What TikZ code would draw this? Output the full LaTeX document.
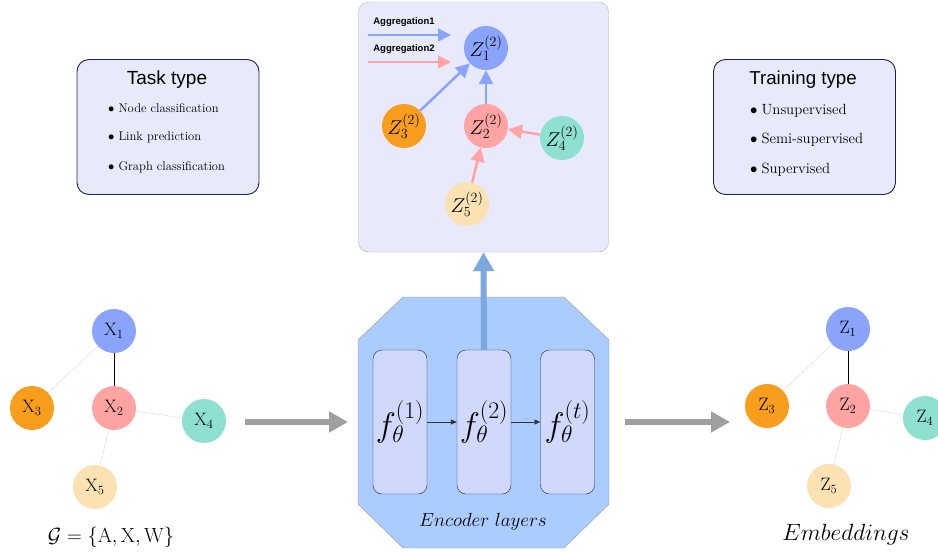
\RequirePackage{fix-cm}
\documentclass[tikz,border=0pt]{standalone}
\usepackage{fontspec}
\setsansfont{Liberation Sans}
\usetikzlibrary{arrows.meta,positioning}

\definecolor{nodoblu}{HTML}{8AA4FC}
\definecolor{nodoarancio}{HTML}{F89E1C}
\definecolor{nodorosa}{HTML}{FFA3A3}
\definecolor{nodoverde}{HTML}{8EE0D0}
\definecolor{nodocrema}{HTML}{FCE2B2}
\definecolor{sfondobox}{HTML}{E8EAFC}
\definecolor{bordobox}{HTML}{1C2250}
\definecolor{encoder}{HTML}{AACCFF}
\definecolor{strato}{HTML}{D0D8FC}
\definecolor{frecciablu}{HTML}{7BA8E0}

\tikzset{
  nodo/.style={circle, minimum size=44pt, inner sep=0pt, font=\fontsize{18}{18}\selectfont},
  nodoz/.style={circle, minimum size=44pt, inner sep=0pt, font=\fontsize{20}{20}\selectfont},
  tipobox/.style={draw=bordobox, line width=0.9pt, fill=sfondobox, rounded corners=12pt, minimum width=182pt, minimum height=135pt},
  voce/.style={anchor=west, inner sep=0pt},
  aggblu/.style={nodoblu, line width=2.5pt, -{Triangle[length=14pt,width=14pt]}},
  aggrosa/.style={nodorosa, line width=2.5pt, -{Triangle[length=14pt,width=14pt]}},
  stratobox/.style={draw=bordobox, fill=strato, rounded corners=9pt, minimum width=54pt, minimum height=144pt, inner sep=0pt, font=\fontsize{34}{34}\selectfont},
  grigia/.style={gray!75, line width=6.5pt, -{Triangle[length=19pt,width=20pt]}}
}

\begin{document}
\begin{tikzpicture}[x=1pt,y=-1pt]
    \useasboundingbox (0,0) rectangle (938,552);
    % Task type
    \node[tipobox] (task) at (168,127) {};
    \node[font=\sffamily\fontsize{19}{19}\selectfont] (tasktit) at (167,80) {Task type};
    \node[voce, font=\fontsize{12.6}{12.6}\selectfont] (t1) at (108,108) {$\bullet$\hspace{4pt}Node classification};
    \node[voce, font=\fontsize{12.6}{12.6}\selectfont] (t2) at (108,137) {$\bullet$\hspace{4pt}Link prediction};
    \node[voce, font=\fontsize{12.6}{12.6}\selectfont] (t3) at (108,167) {$\bullet$\hspace{4pt}Graph classification};
    % Training type
    \node[tipobox] (train) at (804.5,127) {};
    \node[font=\sffamily\fontsize{18.7}{18.7}\selectfont] (traintit) at (803,80) {Training type};
    \node[voce, font=\fontsize{14.8}{14.8}\selectfont] (r1) at (750,111) {$\bullet$\hspace{4pt}Unsupervised};
    \node[voce, font=\fontsize{14.8}{14.8}\selectfont] (r2) at (750,140) {$\bullet$\hspace{4pt}Semi-supervised};
    \node[voce, font=\fontsize{14.8}{14.8}\selectfont] (r3) at (750,170) {$\bullet$\hspace{4pt}Supervised};

    % Aggregazione
    \node[draw=gray!60, fill=sfondobox, rounded corners=10pt, minimum width=250pt, minimum height=250pt] (aggbox) at (483.5,127) {};
    \node[font=\sffamily\bfseries\fontsize{9.5}{9.5}\selectfont] (leg1) at (404,22) {Aggregation1};
    \node[font=\sffamily\bfseries\fontsize{9.5}{9.5}\selectfont] (leg2) at (404,49) {Aggregation2};
    \coordinate (l1a) at (368,35);
    \coordinate (l1b) at (451,35);
    \coordinate (l2a) at (368,62);
    \coordinate (l2b) at (451,62);
    \draw[nodoblu, line width=1.6pt, -{Triangle[length=13pt,width=13pt]}] (l1a) -- (l1b);
    \draw[nodorosa, line width=1.6pt, -{Triangle[length=13pt,width=13pt]}] (l2a) -- (l2b);
    \node[nodoz, fill=nodoblu] (a1) at (486,48) {$Z^{(2)}_1$};
    \node[nodoz, fill=nodorosa] (a2) at (486,126) {$Z^{(2)}_2$};
    \node[nodoz, fill=nodoarancio] (a3) at (404,126) {$Z^{(2)}_3$};
    \node[nodoz, fill=nodoverde] (a4) at (562,138) {$Z^{(2)}_4$};
    \node[nodoz, fill=nodocrema] (a5) at (467,204) {$Z^{(2)}_5$};
    \draw[aggblu] (a3) -- (a1);
    \draw[aggblu] (a2) -- (a1);
    \draw[aggrosa] (a4) -- (a2);
    \draw[aggrosa] (a5) -- (a2);

    % Encoder
    \draw[fill=encoder, draw=gray!80] (403,297) -- (564,297) -- (609,340) -- (609,504) -- (564,548) -- (403,548) -- (358,504) -- (358,340) -- cycle;
    \node[stratobox] (f1) at (400,422) {$f_\theta^{(1)}$};
    \node[stratobox] (f2) at (484,422) {$f_\theta^{(2)}$};
    \node[stratobox] (f3) at (567.5,422) {$f_\theta^{(t)}$};
    \draw[black!80, -{Triangle[length=6pt,width=5pt]}] (f1) -- (f2);
    \draw[black!80, -{Triangle[length=6pt,width=5pt]}] (f2) -- (f3) node[midway, above=-1pt, font=\tiny] {...};
    \draw[frecciablu, line width=6pt, -{Triangle[length=19pt,width=20pt]}] (f2.north) -- (aggbox.south);
    \node[font=\fontsize{19}{19}\selectfont] (enclab) at (483,522) {$Encoder\ layers$};

    % Grafo di ingresso
    \node[nodo, fill=nodoblu] (x1) at (114,331) {$\mathrm{X}_1$};
    \node[nodo, fill=nodorosa] (x2) at (114,408) {$\mathrm{X}_2$};
    \node[nodo, fill=nodoarancio] (x3) at (32,408) {$\mathrm{X}_3$};
    \node[nodo, fill=nodoverde] (x4) at (204,421) {$\mathrm{X}_4$};
    \node[nodo, fill=nodocrema] (x5) at (95,487) {$\mathrm{X}_5$};
    \draw[black, line width=0.8pt] (x1) -- (x2);
    \draw[gray!30] (x1) -- (x3);
    \draw[gray!30] (x2) -- (x4);
    \draw[gray!30] (x2) -- (x5);
    \node[font=\fontsize{20.5}{20.5}\selectfont] (glab) at (111,537) {$\mathcal{G}=\{\mathrm{A},\mathrm{X},\mathrm{W}\}$};

    % Embeddings
    \node[nodo, fill=nodoblu] (z1) at (848,329) {$\mathrm{Z}_1$};
    \node[nodo, fill=nodorosa] (z2) at (848,406) {$\mathrm{Z}_2$};
    \node[nodo, fill=nodoarancio] (z3) at (767,406) {$\mathrm{Z}_3$};
    \node[nodo, fill=nodoverde] (z4) at (925,418) {$\mathrm{Z}_4$};
    \node[nodo, fill=nodocrema] (z5) at (829,486) {$\mathrm{Z}_5$};
    \draw[black, line width=0.8pt] (z1) -- (z2);
    \draw[gray!30] (z1) -- (z3);
    \draw[gray!30] (z2) -- (z4);
    \draw[gray!30] (z2) -- (z5);
    \node[font=\fontsize{23.5}{23.5}\selectfont] (emblab) at (846,535) {$Embeddings$};

    % frecce grigie
    \coordinate (in1) at (245,422);
    \coordinate (in2) at (348,422);
    \coordinate (out1) at (625,422);
    \coordinate (out2) at (730,422);
    \draw[grigia] (in1) -- (in2);
    \draw[grigia] (out1) -- (out2);
\end{tikzpicture}
\end{document}
